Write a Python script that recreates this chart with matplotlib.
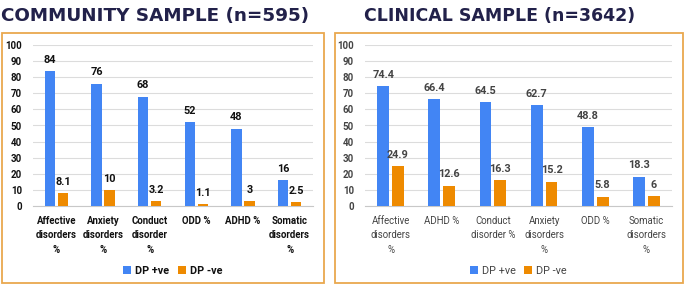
import numpy as np
import matplotlib.pyplot as plt
from matplotlib.patches import Rectangle

plt.rcParams['font.family'] = ['Roboto', 'DejaVu Sans']

comm_labels = ["Affective\ndisorders\n%", "Anxiety\ndisorders\n%", "Conduct\ndisorder\n%",
               "ODD %", "ADHD %", "Somatic\ndisorders\n%"]
comm_pos = [84, 76, 68, 52, 48, 16]
comm_neg = [8.1, 10, 3.2, 1.1, 3, 2.5]

clin_labels = ["Affective\ndisorders\n%", "ADHD %", "Conduct\ndisorder %",
               "Anxiety\ndisorders\n%", "ODD %", "Somatic\ndisorders\n%"]
clin_pos = [74.4, 66.4, 64.5, 62.7, 48.8, 18.3]
clin_neg = [24.9, 12.6, 16.3, 15.2, 5.8, 6]

BLUE = "#4285F4"
ORANGE = "#EE8A00"
W, H = 685, 286

fig = plt.figure(figsize=(W / 100, H / 100), dpi=100)


def panel(x0, x1, labels, pos, neg, txtcol, weight, bw):
    ax = fig.add_axes([x0 / W, (H - 206) / H, (x1 - x0) / W, 161 / H])
    x = np.arange(len(labels))
    g = 0.06
    b1 = ax.bar(x - (bw + g) / 2, pos, bw, color=BLUE, label="DP +ve", zorder=3)
    b2 = ax.bar(x + (bw + g) / 2, neg, bw, color=ORANGE, label="DP -ve", zorder=3)
    for bars, vals in ((b1, pos), (b2, neg)):
        for r, v in zip(bars, vals):
            ax.annotate(f"{v:g}", (r.get_x() + r.get_width() / 2, v), xytext=(0, 4.5),
                        textcoords="offset points", ha="center", va="bottom",
                        fontsize=7.8, fontweight="bold", color=txtcol)
    ax.set_ylim(0, 100)
    ax.set_yticks(range(0, 101, 10))
    ax.set_xlim(-0.5, len(labels) - 0.5)
    ax.set_xticks(x)
    ax.set_xticklabels(labels, fontsize=6.9, fontweight=weight, color=txtcol, linespacing=1.55)
    ax.tick_params(axis="y", labelsize=7, labelcolor=txtcol, length=0, pad=8)
    ax.tick_params(axis="x", length=0, pad=7)
    for lab in ax.get_yticklabels():
        lab.set_fontweight("bold")
    ax.grid(axis="y", color="#dcdcdc", lw=0.8, zorder=0)
    for s in ("top", "right", "left"):
        ax.spines[s].set_visible(False)
    ax.spines["bottom"].set_color("#c8c8c8")
    leg = ax.legend(loc="upper center", bbox_to_anchor=(0.5, -0.31), ncol=2, frameon=False,
                    fontsize=7.8, handlelength=0.7, handleheight=0.7, columnspacing=0.8,
                    handletextpad=0.4)
    for t in leg.get_texts():
        t.set_color(txtcol)
        t.set_fontweight(weight)
    return ax


panel(33, 313, comm_labels, comm_pos, comm_neg, "#111111", "bold", 0.22)
panel(365, 672, clin_labels, clin_pos, clin_neg, "#444444", "normal", 0.23)

for bx0, bx1 in ((2, 324), (335, 683)):
    fig.patches.append(Rectangle((bx0 / W, 3 / H), (bx1 - bx0) / W, 250 / H,
                                 transform=fig.transFigure, fill=False,
                                 edgecolor="#E9A84E", lw=1.3))

fig.text(1 / W, 1 - 16 / H, "COMMUNITY SAMPLE (n=595)", fontsize=13.2, fontweight="heavy",
         color="#22214a", va="center", ha="left", family="DejaVu Sans")
fig.text(364 / W, 1 - 16 / H, "CLINICAL SAMPLE (n=3642)", fontsize=12.5, fontweight="heavy",
         color="#22214a", va="center", ha="left", family="DejaVu Sans")

fig.savefig("out.png", dpi=100)
